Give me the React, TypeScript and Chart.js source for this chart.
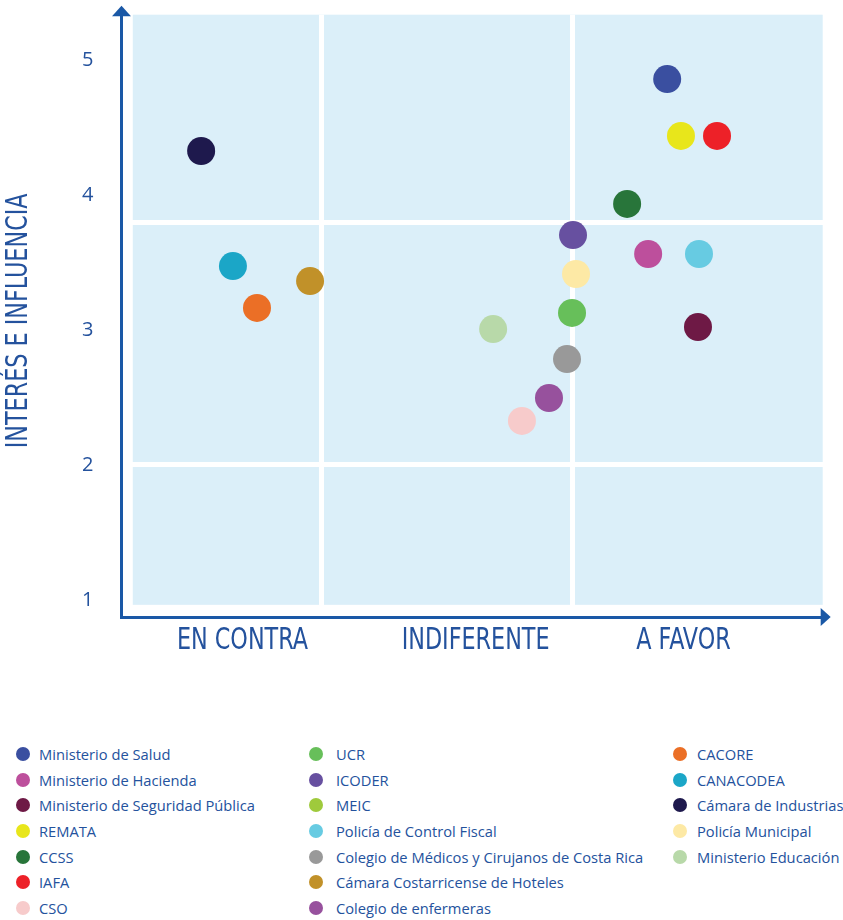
import React, { useEffect, useRef } from "react";
import Chart from "chart.js/auto";

// ---------- data ----------
const orgNames = [
  "Ministerio de Salud",
  "Ministerio de Hacienda",
  "Ministerio de Seguridad Pública",
  "REMATA",
  "CCSS",
  "IAFA",
  "CSO",
  "UCR",
  "ICODER",
  "MEIC",
  "Policía de Control Fiscal",
  "Colegio de Médicos y Cirujanos de Costa Rica",
  "Cámara Costarricense de Hoteles",
  "Colegio de enfermeras",
  "CACORE",
  "CANACODEA",
  "Cámara de Industrias",
  "Policía Municipal",
  "Ministerio Educación",
];

const orgColors = [
  "#3a4fa0",
  "#bd4f9c",
  "#6e1945",
  "#e8e61b",
  "#28753a",
  "#ed2128",
  "#f7cbcb",
  "#67bf5a",
  "#6750a0",
  "#9fca3c",
  "#67cbe2",
  "#999999",
  "#c19129",
  "#97519d",
  "#eb6f26",
  "#1ba6c7",
  "#1e194d",
  "#fde9a5",
  "#b8d9a9",
];

// posture (x): EN CONTRA < 1 < INDIFERENTE < 2 < A FAVOR
const postureValues: (number | null)[] = [
  2.379, 2.303, 2.502, 2.434, 2.219, 2.578, 1.799, 1.999, 2.003, null,
  2.506, 1.979, 0.953, 1.907, 0.741, 0.645, 0.518, 2.015, 1.684,
];

// interest & influence (y)
const interestValues: (number | null)[] = [
  4.859, 3.565, 3.025, 4.438, 3.935, 4.438, 2.33, 3.129, 3.705, null,
  3.565, 2.788, 3.365, 2.5, 3.166, 3.476, 4.327, 3.417, 3.01,
];

const xCategoryLabels = ["EN CONTRA", "INDIFERENTE", "A FAVOR"];
const xCategoryPositions = [0.683, 1.614, 2.444];
const xRange = [0.2, 3.0];
const xCellBoundaries = [1, 2];
const xPanelRange = [0.245, 3.0];

const yTickValues = [1, 2, 3, 4, 5];
const yRange = [0.88, 5.335];
const yCellBoundaries = [2.01, 3.8];
const yPanelRange = [0.97, 5.335];

const yAxisTitle = "INTERÉS E INFLUENCIA";

// ---------- styles ----------
const AXIS_COLOR = "#1a58a6";
const TEXT_COLOR = "#24529d";
const PANEL_BG = "#dbeff9";
const CONDENSED = "'Liberation Sans Narrow', 'DejaVu Sans Condensed', sans-serif";
const CONDENSED_SIZE = 31;
const CONDENSE_X = 0.8;

const noScalePadding = (s: any) => {
  s.paddingTop = 0;
  s.paddingBottom = 0;
  s.paddingLeft = 0;
  s.paddingRight = 0;
};

const panelPlugin = {
  id: "panelBackground",
  beforeDraw(chart: any) {
    const { ctx, scales } = chart;
    const x = scales.x;
    const y = scales.y;
    const l = x.getPixelForValue(xPanelRange[0]);
    const r = x.getPixelForValue(xPanelRange[1]);
    const t = y.getPixelForValue(yPanelRange[1]);
    const b = y.getPixelForValue(yPanelRange[0]);
    ctx.save();
    ctx.fillStyle = PANEL_BG;
    ctx.fillRect(l, t, r - l, b - t);
    ctx.restore();
  },
};

// condensed axis texts (category labels + y title), positioned from the scales
const condensedTextPlugin = {
  id: "condensedAxisText",
  afterDraw(chart: any) {
    const { ctx, chartArea, scales } = chart;
    ctx.save();
    ctx.fillStyle = TEXT_COLOR;
    ctx.font = `${CONDENSED_SIZE}px ${CONDENSED}`;
    ctx.textAlign = "center";
    ctx.textBaseline = "middle";
    xCategoryLabels.forEach((label, i) => {
      const px = scales.x.getPixelForValue(xCategoryPositions[i]);
      ctx.save();
      ctx.translate(px, chartArea.bottom + 24);
      ctx.scale(CONDENSE_X, 1);
      ctx.fillText(label, 0, 0);
      ctx.restore();
    });
    ctx.save();
    ctx.translate(19, (chartArea.top + chartArea.bottom) / 2 + 5);
    ctx.rotate(-Math.PI / 2);
    ctx.scale(CONDENSE_X, 1);
    ctx.fillText(yAxisTitle, 0, 0);
    ctx.restore();
    ctx.restore();
  },
};

const arrowPlugin = {
  id: "axisArrows",
  afterDraw(chart: any) {
    const { ctx, chartArea } = chart;
    const { left, right, top, bottom } = chartArea;
    ctx.save();
    ctx.fillStyle = AXIS_COLOR;
    ctx.beginPath();
    ctx.moveTo(left - 9.5, top + 1.5);
    ctx.lineTo(left + 9.5, top + 1.5);
    ctx.lineTo(left, top - 9);
    ctx.closePath();
    ctx.fill();
    ctx.beginPath();
    ctx.moveTo(right - 2, bottom - 9);
    ctx.lineTo(right - 2, bottom + 9);
    ctx.lineTo(right + 8, bottom);
    ctx.closePath();
    ctx.fill();
    ctx.restore();
  },
};

const ROW_Y0 = 754;
const ROW_STEP = 25.67;
const COL_DOT_X = [23, 316, 680];
const COL_TEXT_X = [39, 336, 697];

export default function App() {
  const canvasRef = useRef<HTMLCanvasElement | null>(null);

  useEffect(() => {
    if (!canvasRef.current) return;
    const datasets = orgNames.map((name, i) => ({
      label: name,
      data:
        postureValues[i] === null || interestValues[i] === null
          ? []
          : [{ x: postureValues[i] as number, y: interestValues[i] as number }],
      backgroundColor: orgColors[i],
      borderWidth: 0,
      pointRadius: 14,
      pointHoverRadius: 14,
      xAxisID: "x",
      yAxisID: "y",
    }));

    const chart = new Chart(canvasRef.current, {
      type: "scatter",
      data: { datasets },
      plugins: [panelPlugin, condensedTextPlugin, arrowPlugin],
      options: {
        animation: false,
        responsive: false,
        events: [],
        layout: {
          autoPadding: false,
          padding: { left: 0, top: 14.7, right: 20.3, bottom: 0 },
        },
        plugins: {
          legend: { display: false },
          tooltip: { enabled: false },
        },
        scales: {
          x: {
            type: "linear",
            position: "bottom",
            min: xRange[0],
            max: xRange[1],
            afterBuildTicks: (s: any) => {
              s.ticks = xCategoryPositions.map((v) => ({ value: v }));
            },
            afterFit: (s: any) => {
              s.height = 83;
              noScalePadding(s);
            },
            grid: { display: false, drawTicks: false },
            border: { display: true, color: AXIS_COLOR, width: 3, z: 1 },
            ticks: { display: false },
          },
          y: {
            type: "linear",
            position: "left",
            min: yRange[0],
            max: yRange[1],
            afterBuildTicks: (s: any) => {
              s.ticks = yTickValues.map((v) => ({ value: v }));
            },
            afterFit: (s: any) => {
              s.width = 121.5;
              noScalePadding(s);
            },
            grid: { display: false, drawTicks: false },
            border: { display: true, color: AXIS_COLOR, width: 3, z: 1 },
            ticks: {
              padding: 28,
              color: TEXT_COLOR,
              font: { family: "'Open Sans', sans-serif", size: 20 },
              callback: (v: any) => String(v),
            },
          },
          xGrid: {
            type: "linear",
            axis: "x",
            position: "bottom",
            min: xRange[0],
            max: xRange[1],
            afterBuildTicks: (s: any) => {
              s.ticks = xCellBoundaries.map((v) => ({ value: v }));
            },
            afterFit: (s: any) => {
              s.height = 0;
              noScalePadding(s);
            },
            grid: { color: "#ffffff", lineWidth: 5, drawTicks: false },
            border: { display: false },
            ticks: { display: false },
          },
          yGrid: {
            type: "linear",
            axis: "y",
            position: "right",
            min: yRange[0],
            max: yRange[1],
            afterBuildTicks: (s: any) => {
              s.ticks = yCellBoundaries.map((v) => ({ value: v }));
            },
            afterFit: (s: any) => {
              s.width = 0;
              noScalePadding(s);
            },
            grid: { color: "#ffffff", lineWidth: 5, drawTicks: false },
            border: { display: false },
            ticks: { display: false },
          },
        } as any,
      },
    });
    return () => chart.destroy();
  }, []);

  return (
    <div
      style={{
        position: "absolute",
        left: 0,
        top: 0,
        width: 843,
        height: 920,
        background: "#ffffff",
        overflow: "hidden",
      }}
    >
      <canvas
        ref={canvasRef}
        width={843}
        height={700}
        style={{ display: "block", width: 843, height: 700 }}
      />
      {orgNames.map((name, i) => {
        const col = Math.floor(i / 7);
        const row = i % 7;
        const cy = ROW_Y0 + row * ROW_STEP;
        return (
          <React.Fragment key={name}>
            <div
              style={{
                position: "absolute",
                left: COL_DOT_X[col] - 7,
                top: cy - 7,
                width: 14,
                height: 14,
                borderRadius: "50%",
                background: orgColors[i],
              }}
            />
            <div
              style={{
                position: "absolute",
                left: COL_TEXT_X[col],
                top: cy - 10,
                height: 20,
                lineHeight: "20px",
                fontFamily: "'Open Sans', sans-serif",
                fontSize: 14.7,
                color: TEXT_COLOR,
                whiteSpace: "nowrap",
              }}
            >
              {name}
            </div>
          </React.Fragment>
        );
      })}
    </div>
  );
}
